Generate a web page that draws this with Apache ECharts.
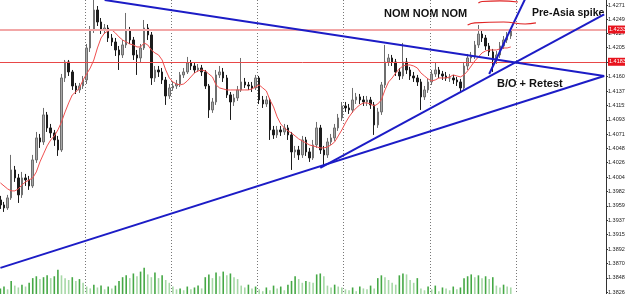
<!DOCTYPE html>
<html>
<head>
<meta charset="utf-8">
<title>H1 triangle breakout</title>
<script src="https://cdn.jsdelivr.net/npm/echarts@6/dist/echarts.min.js"></script>
<style>
html, body { margin: 0; padding: 0; background: #fff; }
#main { width: 625px; height: 294px; }
</style>
</head>
<body>
<div id="main"></div>
<script>
// price scale labels on the right
var priceTicks = [1.42710, 1.42490, 1.42270, 1.42050, 1.41825, 1.41600, 1.41375, 1.41155, 1.40930, 1.40710,
    1.40485, 1.40265, 1.40040, 1.39820, 1.39595, 1.39370, 1.39150, 1.38925, 1.38705, 1.38480, 1.38260];
var priceMin = 1.38229, priceMax = 1.42788;

// hourly bars: [open, close, low, high]
var ohlc = [
    [1.39688,1.39610,1.39548,1.39750],[1.39610,1.39564,1.39502,1.39657],[1.39564,1.39719,1.39533,1.39766],
    [1.39719,1.40153,1.39688,1.40386],[1.40153,1.40029,1.39967,1.40215],[1.40029,1.39766,1.39641,1.40091],
    [1.39766,1.40029,1.39719,1.40122],[1.40029,1.39998,1.39905,1.40091],[1.39998,1.39905,1.39843,1.40060],
    [1.39905,1.40308,1.39874,1.40386],[1.40308,1.40649,1.40262,1.40742],[1.40649,1.40587,1.40494,1.40711],
    [1.40587,1.41006,1.40541,1.41114],[1.41006,1.40804,1.40742,1.41052],[1.40804,1.40727,1.40649,1.40866],
    [1.40727,1.40618,1.40525,1.40773],[1.40618,1.40463,1.40370,1.40680],[1.40463,1.41579,1.40432,1.41641],
    [1.41579,1.41827,1.41517,1.41858],[1.41827,1.41672,1.41610,1.41858],[1.41672,1.41455,1.41393,1.41703],
    [1.41455,1.41393,1.41331,1.41502],[1.41393,1.41455,1.41347,1.41502],[1.41455,1.41548,1.41409,1.41610],
    [1.41548,1.42044,1.41486,1.42106],[1.42044,1.42323,1.41982,1.42385],[1.42323,1.42633,1.42277,1.42788],
    [1.42633,1.42447,1.42385,1.42695],[1.42447,1.42323,1.42261,1.42509],[1.42323,1.42354,1.42261,1.42416],
    [1.42354,1.42199,1.42137,1.42401],[1.42199,1.42137,1.42075,1.42261],[1.42137,1.42013,1.41920,1.42199],
    [1.42013,1.41936,1.41703,1.42075],[1.41936,1.42091,1.41889,1.42168],[1.42091,1.42323,1.42044,1.42587],
    [1.42323,1.42168,1.42106,1.42370],[1.42168,1.41936,1.41858,1.42215],[1.41936,1.41889,1.41626,1.42013],
    [1.41889,1.42044,1.41827,1.42106],[1.42044,1.42354,1.42013,1.42478],[1.42354,1.42246,1.42168,1.42416],
    [1.42246,1.41579,1.41471,1.42292],[1.41579,1.41703,1.41517,1.41765],[1.41703,1.41672,1.41595,1.41765],
    [1.41672,1.41548,1.41486,1.41734],[1.41548,1.41300,1.41161,1.41595],[1.41300,1.41424,1.41254,1.41486],
    [1.41424,1.41455,1.41378,1.41517],[1.41455,1.41486,1.41409,1.41548],[1.41486,1.41626,1.41440,1.41672],
    [1.41626,1.41672,1.41579,1.41734],[1.41672,1.41812,1.41641,1.41905],[1.41812,1.41765,1.41703,1.41858],
    [1.41765,1.41703,1.41657,1.41812],[1.41703,1.41734,1.41672,1.41796],[1.41734,1.41672,1.41610,1.41781],
    [1.41672,1.41455,1.41409,1.41703],[1.41455,1.41083,1.40959,1.41486],[1.41083,1.41207,1.41037,1.41269],
    [1.41207,1.41626,1.41161,1.41703],[1.41626,1.41672,1.41579,1.41765],[1.41672,1.41579,1.41517,1.41734],
    [1.41579,1.41316,1.41269,1.41626],[1.41316,1.41207,1.40928,1.41362],[1.41207,1.41269,1.41145,1.41331],
    [1.41269,1.41393,1.41223,1.41455],[1.41393,1.41517,1.41362,1.41889],[1.41517,1.41471,1.41424,1.41579],
    [1.41471,1.41455,1.41393,1.41517],[1.41455,1.41424,1.41362,1.41517],[1.41424,1.41579,1.41393,1.41626],
    [1.41579,1.41238,1.41176,1.41610],[1.41238,1.41176,1.41114,1.41300],[1.41176,1.41238,1.41130,1.41300],
    [1.41238,1.40773,1.40618,1.41269],[1.40773,1.40696,1.40634,1.40835],[1.40696,1.40773,1.40649,1.40835],
    [1.40773,1.40742,1.40680,1.40835],[1.40742,1.40804,1.40696,1.40866],[1.40804,1.40696,1.40618,1.40851],
    [1.40696,1.40432,1.40153,1.40742],[1.40432,1.40463,1.40339,1.40525],[1.40463,1.40386,1.40308,1.40525],
    [1.40386,1.40618,1.40339,1.40680],[1.40618,1.40432,1.40370,1.40665],[1.40432,1.40339,1.40277,1.40494],
    [1.40339,1.40541,1.40308,1.40618],[1.40541,1.40804,1.40494,1.40897],[1.40804,1.40463,1.40401,1.40851],
    [1.40463,1.40386,1.40215,1.40525],[1.40386,1.40587,1.40339,1.40649],[1.40587,1.40649,1.40541,1.40711],
    [1.40649,1.40804,1.40603,1.40866],[1.40804,1.40959,1.40758,1.41021],[1.40959,1.41145,1.40913,1.41207],
    [1.41145,1.41114,1.41052,1.41207],[1.41114,1.41083,1.41021,1.41176],[1.41083,1.41238,1.41037,1.41424],
    [1.41238,1.41285,1.41176,1.41347],[1.41285,1.41238,1.41176,1.41331],[1.41238,1.41207,1.41145,1.41300],
    [1.41207,1.41238,1.41145,1.41300],[1.41238,1.41161,1.41099,1.41285],[1.41161,1.40851,1.40696,1.41207],
    [1.40851,1.41052,1.40804,1.41114],[1.41052,1.41471,1.41006,1.41517],[1.41471,1.41827,1.41424,1.42091],
    [1.41827,1.41889,1.41765,1.41951],[1.41889,1.41827,1.41765,1.41936],[1.41827,1.41672,1.41610,1.41874],
    [1.41672,1.41610,1.41548,1.41734],[1.41610,1.41827,1.41564,1.42122],[1.41827,1.41703,1.41641,1.41889],
    [1.41703,1.41610,1.41548,1.41750],[1.41610,1.41579,1.41517,1.41672],[1.41579,1.41517,1.41455,1.41626],
    [1.41517,1.41285,1.41083,1.41564],[1.41285,1.41393,1.41238,1.41455],[1.41393,1.41517,1.41347,1.41564],
    [1.41517,1.41641,1.41471,1.41703],[1.41641,1.41703,1.41595,1.41812],[1.41703,1.41641,1.41579,1.41750],
    [1.41641,1.41610,1.41548,1.41688],[1.41610,1.41579,1.41533,1.41672],[1.41579,1.41579,1.41517,1.41641],
    [1.41579,1.41548,1.41486,1.41626],[1.41548,1.41517,1.41455,1.41595],[1.41517,1.41424,1.41362,1.41564],
    [1.41424,1.41765,1.41393,1.41827],[1.41765,1.41889,1.41703,1.41951],[1.41889,1.41920,1.41827,1.41982],
    [1.41920,1.42091,1.41874,1.42153],[1.42091,1.42261,1.42044,1.42401],[1.42261,1.42199,1.42137,1.42323],
    [1.42199,1.42075,1.42013,1.42246],[1.42075,1.41982,1.41920,1.42122],[1.41982,1.41858,1.41672,1.42029],
    [1.41858,1.41936,1.41796,1.41998],[1.41936,1.42075,1.41889,1.42137],[1.42075,1.42168,1.42029,1.42230],
    [1.42168,1.42230,1.42122,1.42292],[1.42230,1.42323,1.42184,1.42354]
];

// red moving average
var ma = [
    1.39952,1.39905,1.39859,1.39828,1.39828,1.39859,1.39921,1.39967,1.39998,1.40029,
    1.40122,1.40277,1.40401,1.40525,1.40618,1.40680,1.40773,1.40897,1.41052,1.41192,
    1.41316,1.41362,1.41424,1.41548,1.41641,1.41734,1.41858,1.42044,1.42199,1.42277,
    1.42308,1.42323,1.42277,1.42215,1.42168,1.42137,1.42106,1.42091,1.42060,1.42060,
    1.42122,1.42091,1.42013,1.41967,1.41936,1.41858,1.41703,1.41579,1.41517,1.41486,
    1.41471,1.41486,1.41533,1.41595,1.41657,1.41688,1.41703,1.41688,1.41641,1.41595,
    1.41471,1.41424,1.41409,1.41393,1.41393,1.41393,1.41393,1.41393,1.41393,1.41393,
    1.41409,1.41440,1.41471,1.41424,1.41378,1.41238,1.41130,1.40975,1.40866,1.40804,
    1.40758,1.40727,1.40680,1.40634,1.40603,1.40572,1.40541,1.40525,1.40510,1.40494,
    1.40494,1.40510,1.40541,1.40587,1.40680,1.40773,1.40882,1.40975,1.41052,1.41114,
    1.41161,1.41192,1.41192,1.41176,1.41145,1.41176,1.41238,1.41393,1.41517,1.41579,
    1.41657,1.41719,1.41765,1.41781,1.41781,1.41765,1.41734,1.41657,1.41610,1.41564,
    1.41533,1.41548,1.41579,1.41579,1.41579,1.41595,1.41626,1.41610,1.41595,1.41626,
    1.41688,1.41765,1.41843,1.41905,1.41967,1.41998,1.42013,1.42013,1.42013,1.42029,
    1.42044,1.42044,1.42060
];

// tick volume
var volumes = [
    600,800,500,1400,900,700,1000,800,
    1200,1700,1900,1600,1800,2000,1700,1900,2600,
    2000,1700,1500,1800,1400,1600,1200,
    800,600,1000,700,900,500,800,600,900,
    1400,1800,2000,1700,2200,1900,2400,2800,2100,1800,2300,1700,2000,1500,
    1200,800,500,
    600,400,800,500,700,900,600,
    1800,2100,1700,2300,1900,2400,2000,2200,1800,1600,
    900,700,1000,600,800,
    500,300,700,400,900,600,800,400,1000,
    1400,1900,1600,
    1200,1400,1300,1200,
    2100,2200,1900,
    900,700,1000,800,700,
    500,400,700,300,800,600,500,900,600,
    1700,2000,1800,1500,
    1200,1000,
    2000,2200,2100,
    1500,1200,1700,
    600,400,800,500,900,300,700,600,400,800,500,700,
    1700,1900,2100,1800,2000,1700,1900,1600,1800,
    900,700,1000,800,700
];

// horizontal levels and drawn trend lines: [bar index, price]
var levels = [1.42330, 1.41830];
var upperLine = [[29, 1.42788], [168, 1.41610]];
var lowerLine = [[0, 1.38634], [168, 1.41610]];
var risingLine = [[89, 1.40184], [168, 1.42565]];
var spikeLine = [[136, 1.41641], [146, 1.42804]];
var scribbleTop = [[133, 1.42742], [134, 1.42765], [139, 1.42773], [144, 1.42757]];
var scribbleLow = [[130, 1.42401], [132, 1.42432], [140, 1.42447], [146, 1.42416], [149, 1.42432]];

var slots = 169;
var categories = [];
for (var i = 0; i < slots; i++) categories.push(String(i));

var volColors = volumes.map(function (v, i) {
    return (i === 0 || v >= volumes[i - 1]) ? '#45a845' : '#a6d8a6';
});

function trend(data, color, width) {
    return {
        type: 'line', data: data, symbol: 'none', silent: true, z: 5,
        lineStyle: { color: color, width: width }
    };
}

var levelLabel = {
    show: true, position: 'end', distance: 2,
    formatter: function (p) { return Number(p.value).toFixed(5); },
    color: '#fff', backgroundColor: '#e8141e', fontSize: 5.5, padding: [1, 1],
    fontFamily: 'Liberation Sans'
};

var myChart = echarts.init(document.getElementById('main'));
var option = {
    animation: false,
    backgroundColor: '#fff',
    grid: [
        { left: -1.4, right: 19, top: 0, bottom: 0, outerBoundsMode: 'none', containLabel: false },
        { left: -1.4, right: 19, top: 266, bottom: 0, outerBoundsMode: 'none', containLabel: false }
    ],
    xAxis: [
        {
            type: 'category', data: categories, gridIndex: 0, boundaryGap: true,
            axisLine: { show: false }, axisTick: { show: false }, axisLabel: { show: false },
            splitLine: {
                show: true,
                interval: function (idx) { return idx > 0 && idx < 160 && idx % 24 === 0; },
                lineStyle: { color: '#777', type: [1, 2], width: 1 }
            }
        },
        {
            type: 'category', data: categories, gridIndex: 1, boundaryGap: true,
            axisLine: { show: false }, axisTick: { show: false }, axisLabel: { show: false }
        }
    ],
    yAxis: [
        {
            type: 'value', gridIndex: 0, position: 'right', min: priceMin, max: priceMax,
            axisLine: { show: true, lineStyle: { color: '#333', width: 1 } },
            axisTick: { show: true, length: 2, customValues: priceTicks, lineStyle: { color: '#333' } },
            axisLabel: {
                customValues: priceTicks, margin: 2, fontSize: 5.5, color: '#222',
                fontFamily: 'Liberation Sans',
                formatter: function (v) { return Number(v).toFixed(5); }
            },
            splitLine: { show: false }
        },
        {
            type: 'value', gridIndex: 1, min: 0, max: 3000, show: false
        }
    ],
    graphic: [
        { type: 'text', left: 384, top: 8, style: { text: 'NOM NOM NOM', font: 'bold 11px "Liberation Sans", Arial', fill: '#111' } },
        { type: 'text', left: 532, top: 8, style: { text: 'Pre-Asia spike', font: 'bold 10.5px "Liberation Sans", Arial', fill: '#111' } },
        { type: 'text', left: 497, top: 78, style: { text: 'B/O + Retest', font: 'bold 11px "Liberation Sans", Arial', fill: '#111' } }
    ],
    series: [
        {
            type: 'bar', xAxisIndex: 1, yAxisIndex: 1, data: volumes, barWidth: 1.6, silent: true,
            itemStyle: { color: function (p) { return volColors[p.dataIndex]; } }
        },
        {
            type: 'candlestick', data: ohlc, barWidth: 2, silent: true,
            itemStyle: {
                color: '#a8a8a8', color0: '#1c1c1c',
                borderColor: '#6e6e6e', borderColor0: '#1c1c1c', borderWidth: 1
            },
            markLine: {
                symbol: 'none', silent: true, precision: 5,
                data: [
                    { yAxis: levels[0], lineStyle: { color: '#f2a7a7', width: 2, type: 'solid' }, label: levelLabel },
                    { yAxis: levels[1], lineStyle: { color: '#e84848', width: 1, type: 'solid' }, label: levelLabel }
                ]
            }
        },
        {
            type: 'line', data: ma, symbol: 'none', silent: true, z: 4,
            lineStyle: { color: '#f05050', width: 1 }
        },
        trend(upperLine, '#1c1cc6', 2),
        trend(lowerLine, '#1c1cc6', 2),
        trend(risingLine, '#1c1cc6', 2),
        trend(spikeLine, '#1c1cc6', 2),
        Object.assign(trend(scribbleTop, '#e02424', 1.2), { smooth: true }),
        Object.assign(trend(scribbleLow, '#e02424', 1.2), { smooth: true })
    ]
};
myChart.setOption(option);
</script>
</body>
</html>
